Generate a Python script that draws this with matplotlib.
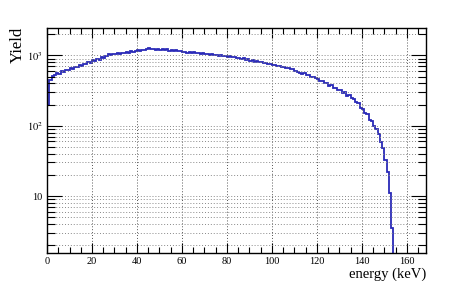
import numpy as np
import matplotlib
matplotlib.use("Agg")
import matplotlib.pyplot as plt
from matplotlib.ticker import FixedLocator, FixedFormatter, MultipleLocator, NullFormatter

# bin edges in keV (1 keV bins) and counts per bin
bin_edges = np.arange(0, 156, 1)
counts = [
    195, 440, 505, 520, 555, 548, 590, 578, 620, 612,
    655, 640, 690, 680, 725, 715, 760, 750, 800, 790,
    850, 835, 890, 870, 940, 925, 985, 1040, 1000, 1055,
    1040, 1085, 1060, 1095, 1065, 1120, 1090, 1135, 1105, 1165,
    1180, 1140, 1205, 1190, 1235, 1260, 1225, 1245, 1210, 1240,
    1200, 1230, 1185, 1215, 1170, 1190, 1150, 1175, 1140, 1160,
    1105, 1130, 1095, 1120, 1080, 1100, 1065, 1085, 1050, 1075,
    1035, 1055, 1020, 1045, 1000, 1020, 985, 1005, 970, 990,
    950, 970, 935, 955, 910, 925, 890, 905, 865, 880,
    845, 855, 815, 830, 795, 800, 770, 785, 745, 755,
    725, 735, 700, 715, 675, 690, 655, 665, 630, 640,
    605, 585, 570, 550, 560, 525, 530, 500, 495, 470,
    465, 435, 430, 400, 405, 370, 375, 340, 345, 320,
    325, 295, 300, 268, 270, 245, 240, 215, 210, 180,
    172, 150, 148, 120, 118, 100, 90, 76, 58, 48,
    33, 22, 11, 3.5, 1.0,
]

x_ticks = [0, 20, 40, 60, 80, 100, 120, 140, 160]
y_ticks = [10, 100, 1000]
y_tick_labels = ["10", r"$10^{2}$", r"$10^{3}$"]

plt.rcParams["font.family"] = "Liberation Serif"
plt.rcParams["mathtext.fontset"] = "stix"

fig = plt.figure(figsize=(4.73, 2.81), dpi=100)
ax = fig.add_axes([0.0994, 0.0996, 0.8012, 0.8008])

ax.stairs(counts, bin_edges, color="#2a2ab8", linewidth=1.3, baseline=None)

ax.set_yscale("log")
ax.set_xlim(0, 168.5)
ax.set_ylim(1.55, 2450)

ax.xaxis.set_major_locator(FixedLocator(x_ticks))
ax.xaxis.set_minor_locator(MultipleLocator(5))
ax.yaxis.set_major_locator(FixedLocator(y_ticks))
ax.yaxis.set_major_formatter(FixedFormatter(y_tick_labels))
minors = [m * 10.0 ** d for d in range(0, 4) for m in range(2, 10)]
ax.yaxis.set_minor_locator(FixedLocator(minors))
ax.yaxis.set_minor_formatter(NullFormatter())

ax.tick_params(which="both", direction="in", top=True, right=True,
               labelsize=7.5, width=0.8)
ax.tick_params(axis="y", which="major", length=11, pad=3)
ax.tick_params(axis="y", which="minor", length=6)
ax.tick_params(axis="x", which="major", length=7, pad=3)
ax.tick_params(axis="x", which="minor", length=4)

ax.grid(True, axis="x", which="major", color="#555555", linestyle=(0, (1, 2)), linewidth=0.7)
ax.grid(True, axis="y", which="both", color="#888888", linestyle=(0, (1, 2)), linewidth=0.7)

for s in ax.spines.values():
    s.set_linewidth(1.0)

ax.set_xlabel("energy (keV)", fontsize=10.5, loc="right", labelpad=1)
fig.text(18 / 473, 1 - 27 / 281, "Yield", rotation=90, ha="center", va="top", fontsize=12)

fig.savefig("out.png", dpi=100)
